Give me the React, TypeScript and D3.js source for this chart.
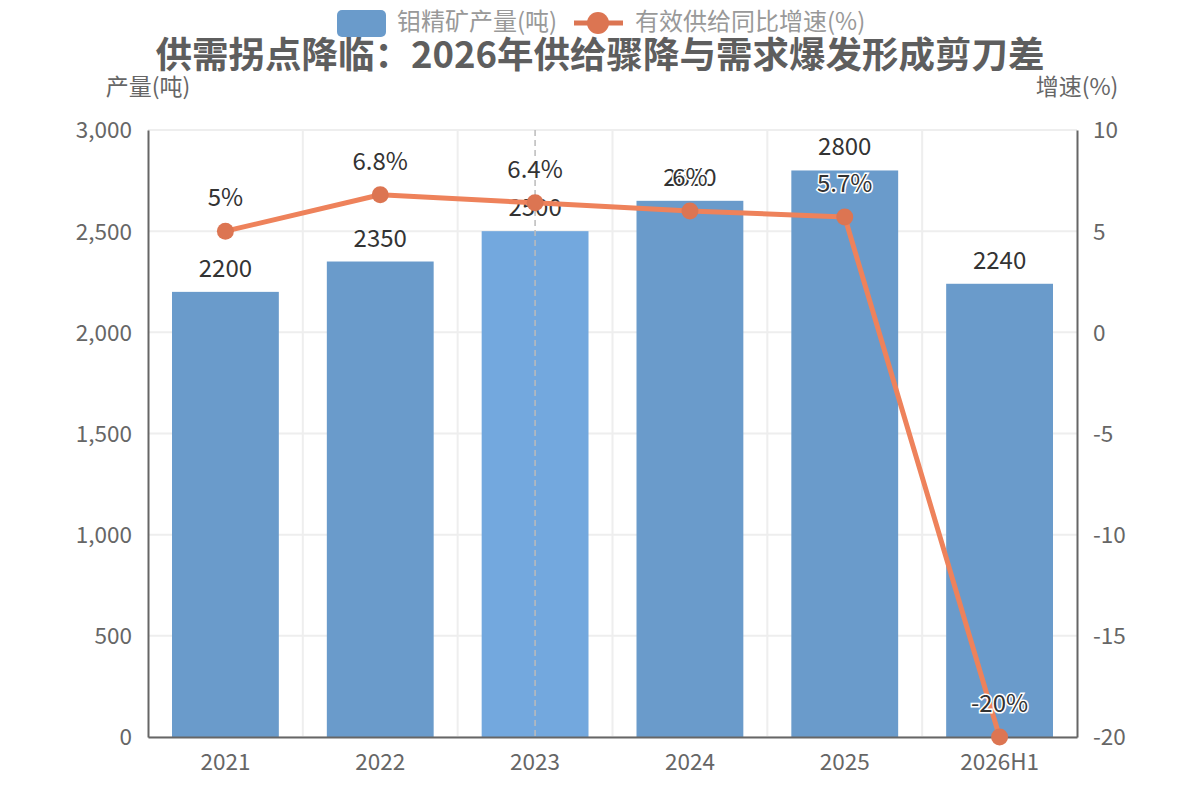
import { useEffect, useRef } from "react";
import * as d3 from "d3";

const categories = ["2021", "2022", "2023", "2024", "2025", "2026H1"];
const output = [2200, 2350, 2500, 2650, 2800, 2240];
const growth = [5, 6.8, 6.4, 6, 5.7, -20];
const leftTicks = [0, 500, 1000, 1500, 2000, 2500, 3000];
const rightTicks = [-20, -15, -10, -5, 0, 5, 10];
const hovered = "2023";

const FONT = '"Noto Sans CJK SC", "Noto Sans", sans-serif';

export default function App() {
  const ref = useRef<SVGSVGElement>(null);

  useEffect(() => {
    const W = 1200;
    const H = 800;
    const m = { left: 148, right: 123, top: 130, bottom: 63 };
    const svg = d3.select(ref.current);
    svg.selectAll("*").remove();
    svg.attr("width", W).attr("height", H).style("font-family", FONT);

    const x = d3.scaleBand().domain(categories).range([m.left, W - m.right]);
    const yL = d3.scaleLinear().domain([0, 3000]).range([H - m.bottom, m.top]);
    const yR = d3.scaleLinear().domain([-20, 10]).range([H - m.bottom, m.top]);

    // grid
    const grid = svg.append("g");
    grid.selectAll("line.h")
      .data(leftTicks)
      .join("line")
      .attr("x1", m.left).attr("x2", W - m.right)
      .attr("y1", d => yL(d)).attr("y2", d => yL(d))
      .attr("stroke", "#eeeeee").attr("stroke-width", 2);
    grid.selectAll("line.v")
      .data(categories.slice(1))
      .join("line")
      .attr("x1", d => x(d)!).attr("x2", d => x(d)!)
      .attr("y1", m.top).attr("y2", H - m.bottom)
      .attr("stroke", "#eeeeee").attr("stroke-width", 2);

    // bars
    const bw = x.bandwidth() * 0.69;
    svg.append("g")
      .selectAll("rect")
      .data(output)
      .join("rect")
      .attr("x", (_, i) => x(categories[i])! + (x.bandwidth() - bw) / 2)
      .attr("width", bw)
      .attr("y", d => yL(d))
      .attr("height", d => yL(0) - yL(d))
      .attr("fill", (_, i) => (categories[i] === hovered ? "#73a8de" : "#6a9bcb"));

    svg.append("g")
      .selectAll("text")
      .data(output)
      .join("text")
      .attr("x", (_, i) => x(categories[i])! + x.bandwidth() / 2)
      .attr("y", d => yL(d) - 15)
      .attr("text-anchor", "middle")
      .attr("font-size", 24)
      .attr("fill", "#333")
      .text(d => d);

    // axis pointer
    const px = x(hovered)! + x.bandwidth() / 2;
    svg.append("line")
      .attr("x1", px).attr("x2", px)
      .attr("y1", m.top).attr("y2", H - m.bottom)
      .attr("stroke", "#bbbbbb").attr("stroke-width", 1.5)
      .attr("stroke-dasharray", "6 4");

    // axes
    const axisL = svg.append("g").attr("transform", `translate(${m.left},0)`)
      .call(d3.axisLeft(yL).tickValues(leftTicks).tickSize(0).tickPadding(16).tickFormat(d3.format(",")));
    const axisR = svg.append("g").attr("transform", `translate(${W - m.right},0)`)
      .call(d3.axisRight(yR).tickValues(rightTicks).tickSize(0).tickPadding(16).tickFormat(d => String(d)));
    const axisB = svg.append("g").attr("transform", `translate(0,${H - m.bottom})`)
      .call(d3.axisBottom(x).tickSize(0).tickPadding(13));
    [axisL, axisR, axisB].forEach(g => {
      g.select(".domain").attr("stroke", "#666").attr("stroke-width", 2);
      g.selectAll("text").attr("font-size", 22.5).attr("fill", "#666").attr("font-family", FONT);
    });
    axisL.selectAll("text").attr("dy", "0.35em");
    axisR.selectAll("text").attr("dy", "0.35em");
    axisB.selectAll("text").attr("dy", "0.9em");

    svg.append("text").attr("x", 148).attr("y", 95).attr("text-anchor", "middle")
      .attr("font-size", 23).attr("fill", "#666").text("产量(吨)");
    svg.append("text").attr("x", 1077).attr("y", 95).attr("text-anchor", "middle")
      .attr("font-size", 23).attr("fill", "#666").text("增速(%)");

    // line series
    const line = d3.line<number>()
      .x((_, i) => x(categories[i])! + x.bandwidth() / 2)
      .y(d => yR(d));
    svg.append("path")
      .datum(growth)
      .attr("d", line)
      .attr("fill", "none")
      .attr("stroke", "#ee825b")
      .attr("stroke-width", 5)
      .attr("stroke-linejoin", "round");
    svg.append("g")
      .selectAll("circle")
      .data(growth)
      .join("circle")
      .attr("cx", (_, i) => x(categories[i])! + x.bandwidth() / 2)
      .attr("cy", d => yR(d))
      .attr("r", 8.5)
      .attr("fill", "#dc7552");
    svg.append("g")
      .selectAll("text")
      .data(growth)
      .join("text")
      .attr("x", (_, i) => x(categories[i])! + x.bandwidth() / 2)
      .attr("y", d => yR(d) - 25)
      .attr("text-anchor", "middle")
      .attr("font-size", 24)
      .attr("fill", "#333")
      .attr("stroke", "#fff")
      .attr("stroke-width", 3)
      .attr("paint-order", "stroke")
      .text(d => `${d}%`);

    // title
    svg.append("text")
      .attr("x", 600).attr("y", 68)
      .attr("text-anchor", "middle")
      .attr("font-size", 36.5).attr("font-weight", "bold")
      .attr("fill", "#5e5e5e")
      .text("供需拐点降临：2026年供给骤降与需求爆发形成剪刀差");

    // legend
    const lg = svg.append("g");
    lg.append("rect").attr("x", 337).attr("y", 10).attr("width", 49).attr("height", 27)
      .attr("rx", 5).attr("fill", "#6a9bcb");
    lg.append("text").attr("x", 397).attr("y", 30).attr("font-size", 24).attr("fill", "#999")
      .text("钼精矿产量(吨)");
    lg.append("line").attr("x1", 574).attr("x2", 623).attr("y1", 23).attr("y2", 23)
      .attr("stroke", "#dc7552").attr("stroke-width", 5);
    lg.append("circle").attr("cx", 598).attr("cy", 23).attr("r", 11).attr("fill", "#dc7552");
    lg.append("text").attr("x", 635).attr("y", 30).attr("font-size", 24).attr("fill", "#999")
      .text("有效供给同比增速(%)");
  }, []);

  return <svg ref={ref} style={{ position: "absolute", left: 0, top: 0 }} />;
}
